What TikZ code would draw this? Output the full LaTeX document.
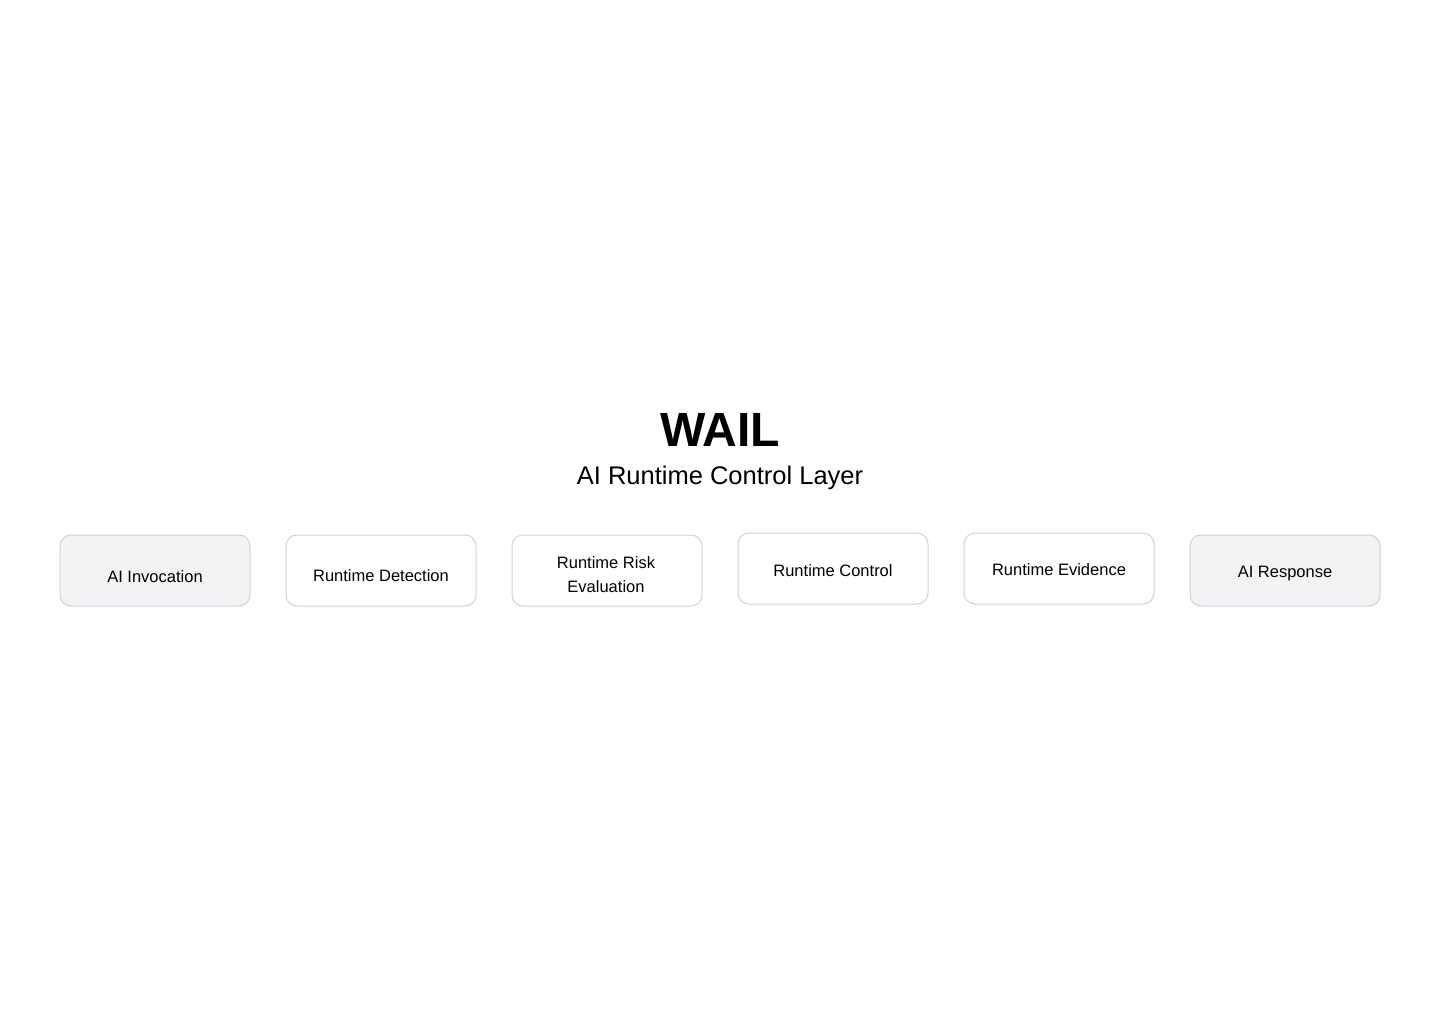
\documentclass[tikz,border=0pt]{standalone}
\usepackage{fontspec}
\setmainfont{Liberation Sans}
\usepackage{tikz}
\usetikzlibrary{positioning}

\definecolor{boxline}{HTML}{CDD1D8}
\definecolor{boxfill}{HTML}{F2F3F5}
\tikzset{
	stage/.style={draw=boxline,line width=1pt,rounded corners=11pt,minimum width=190pt,minimum height=71pt,inner sep=0pt},
	endstage/.style={stage,fill=boxfill},
	stagetext/.style={font=\fontsize{16.5}{24}\selectfont,align=center,inner sep=0pt}
}

\begin{document}
\begin{tikzpicture}[x=1pt,y=-1pt]
		\useasboundingbox (0,0) rectangle (1440,1024);
		\node[font=\fontsize{48}{56}\selectfont\bfseries,anchor=base] (title) at (720,446) {WAIL};
		\node[font=\fontsize{25.5}{30}\selectfont,anchor=base] (subtitle) at (720,484) {AI Runtime Control Layer};
		% the six boxes
		\node[endstage] (invoc) at (155,570.5) {};
		\node[stage] (detect) at (381,570.5) {};
		\node[stage] (risk) at (607,570.5) {};
		\node[stage] (control) at (833,568.5) {};
		\node[stage] (evid) at (1059,568.5) {};
		\node[endstage] (resp) at (1285,570.5) {};
		% their texts
		\node[stagetext,anchor=base] (invoctext) at (155,582) {AI Invocation};
		\node[stagetext,anchor=base] (detecttext) at (381,581) {Runtime Detection};
		\node[stagetext] (risktext) at (606,575) {Runtime Risk\\ Evaluation};
		\node[stagetext,anchor=base] (controltext) at (833,576) {Runtime Control};
		\node[stagetext,anchor=base] (evidtext) at (1059,575) {Runtime Evidence};
		\node[stagetext,anchor=base] (resptext) at (1285,577) {AI Response};
	\end{tikzpicture}
\end{document}
